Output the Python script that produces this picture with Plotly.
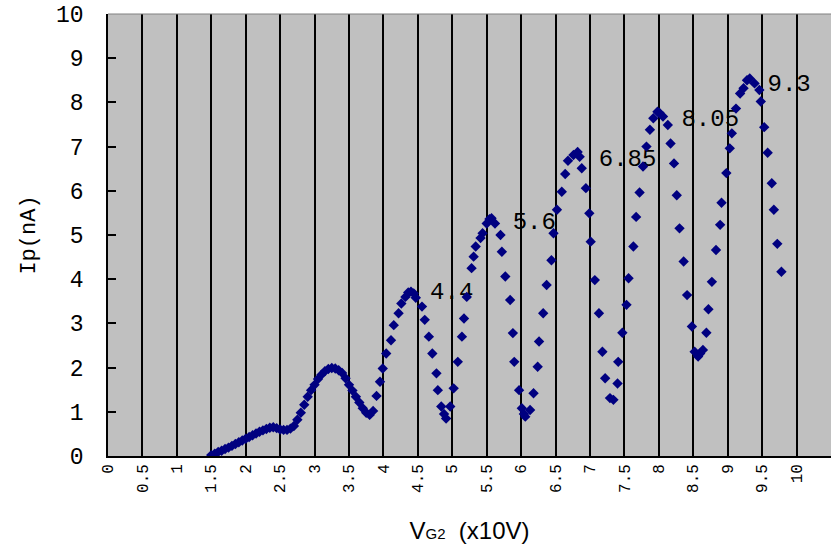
import plotly.graph_objects as go

# Dense (near continuous) part of the curve
vg2_dense = [1.50, 1.55, 1.60, 1.65, 1.70, 1.75, 1.80, 1.85, 1.90, 1.95,
             2.00, 2.05, 2.10, 2.15, 2.20, 2.25, 2.30, 2.35, 2.40, 2.45,
             2.50, 2.55, 2.60, 2.65, 2.70, 2.75, 2.80, 2.85, 2.90, 2.95,
             3.00, 3.05, 3.10, 3.15, 3.20, 3.25, 3.30, 3.35, 3.40, 3.45,
             3.50, 3.55, 3.60, 3.65, 3.70, 3.75, 3.80, 3.85]
ip_dense = [0.02, 0.05, 0.09, 0.12, 0.16, 0.19, 0.23, 0.27, 0.31, 0.35,
            0.39, 0.43, 0.47, 0.51, 0.55, 0.58, 0.61, 0.64, 0.65, 0.63,
            0.60, 0.59, 0.59, 0.62, 0.68, 0.82, 0.98, 1.16, 1.34, 1.49,
            1.61, 1.74, 1.84, 1.92, 1.97, 1.99, 1.98, 1.94, 1.88, 1.76,
            1.61, 1.48, 1.34, 1.21, 1.08, 0.98, 0.93, 1.02]

# Sparse part
vg2_sparse = [3.90, 3.95, 3.99, 4.04, 4.11, 4.15, 4.22, 4.26, 4.32, 4.36,
              4.40, 4.44, 4.47, 4.56, 4.60, 4.66, 4.71, 4.77, 4.79, 4.84,
              4.88, 4.91, 4.97, 5.02, 5.08, 5.14, 5.17, 5.21, 5.28, 5.31,
              5.34, 5.41, 5.44, 5.50, 5.54, 5.57, 5.62, 5.70, 5.72, 5.77,
              5.84, 5.88, 5.90, 5.97, 6.01, 6.04, 6.06, 6.13, 6.18, 6.24,
              6.26, 6.32, 6.37, 6.44, 6.47, 6.52, 6.59, 6.64, 6.68, 6.76,
              6.82, 6.85, 6.88, 6.94, 6.99, 7.01, 7.07, 7.13, 7.18, 7.22,
              7.29, 7.34, 7.40, 7.41, 7.47, 7.53, 7.56, 7.63, 7.67, 7.72,
              7.77, 7.82, 7.87, 7.92, 7.98, 8.01, 8.06, 8.13, 8.17, 8.22,
              8.26, 8.30, 8.36, 8.41, 8.48, 8.52, 8.57, 8.60, 8.64, 8.69,
              8.72, 8.77, 8.83, 8.89, 8.91, 8.98, 9.03, 9.06, 9.12, 9.18,
              9.23, 9.28, 9.32, 9.39, 9.46, 9.48, 9.53, 9.58, 9.64, 9.67,
              9.72, 9.78]
ip_sparse = [1.36, 1.68, 1.98, 2.32, 2.62, 2.96, 3.23, 3.45, 3.60, 3.70,
             3.72, 3.68, 3.58, 3.38, 3.08, 2.70, 2.32, 1.87, 1.49, 1.12,
             0.95, 0.85, 1.12, 1.53, 2.13, 2.70, 3.11, 3.60, 4.25, 4.51,
             4.74, 4.93, 5.04, 5.26, 5.36, 5.38, 5.26, 5.00, 4.62, 4.06,
             3.53, 2.78, 2.13, 1.49, 1.08, 0.95, 0.89, 1.04, 1.42, 2.02,
             2.59, 3.23, 3.87, 4.43, 5.04, 5.57, 5.98, 6.38, 6.68, 6.81,
             6.88, 6.77, 6.51, 6.06, 5.49, 4.85, 3.98, 3.23, 2.36, 1.76,
             1.31, 1.27, 1.64, 2.13, 2.79, 3.42, 4.02, 4.74, 5.41, 5.96,
             6.55, 7.00, 7.38, 7.64, 7.79, 7.76, 7.68, 7.49, 7.07, 6.62,
             5.90, 5.15, 4.40, 3.64, 2.93, 2.36, 2.25, 2.32, 2.40, 2.79,
             3.32, 3.94, 4.66, 5.23, 5.73, 6.40, 6.96, 7.30, 7.86, 8.20,
             8.32, 8.50, 8.54, 8.43, 8.28, 8.02, 7.44, 6.86, 6.17, 5.57,
             4.80, 4.17]

vg2 = vg2_dense + vg2_sparse
ip = ip_dense + ip_sparse

# Peak labels
label_x = [4.4, 5.6, 6.85, 8.05, 9.3]
label_y = [3.69, 5.27, 6.70, 7.60, 8.39]
label_text = ["4.4", "5.6", "6.85", "8.05", "9.3"]

x_tickvals = [i * 0.5 for i in range(22)]
x_ticktext = ["0", "0.5", "1", "1.5", "2", "2.5", "3", "3.5", "4", "4.5", "5",
              "5.5", "6", "6.5", "7", "7.5", "8", "8.5", "9", "9.5", "10", "10.5"]
y_tickvals = list(range(11))

mono = "Liberation Mono"

fig = go.Figure()

# labels (drawn beneath markers)
fig.add_trace(go.Scatter(
    x=label_x, y=label_y, mode="markers+text", text=label_text,
    textposition="middle right",
    textfont=dict(family=mono, size=24, color="#000000"),
    marker=dict(size=29, opacity=0, color="rgba(0,0,0,0)"),
    hoverinfo="skip", showlegend=False, cliponaxis=False,
))

fig.add_trace(go.Scatter(
    x=vg2, y=ip, mode="markers",
    marker=dict(symbol="diamond", size=8, color="#000080", line=dict(width=0)),
    showlegend=False,
))

fig.update_layout(
    width=832, height=552,
    margin=dict(l=108, r=1, t=14, b=96),
    paper_bgcolor="#FFFFFF",
    plot_bgcolor="#C0C0C0",
    xaxis=dict(
        range=[0, 10.5],
        automargin=False,
        tickvals=x_tickvals, ticktext=x_ticktext,
        tickangle=-90,
        tickfont=dict(family=mono, size=16, color="#000000"),
        showgrid=True, gridcolor="#000000", gridwidth=1.5,
        zeroline=False,
        showline=True, linecolor="#000000", linewidth=1.5,
        ticks="",
        title=dict(
            text="V<span style='font-size:15px'>G2</span>  (x10V)",
            font=dict(family="Liberation Sans", size=24, color="#000000"),
            standoff=30,
        ),
    ),
    yaxis=dict(
        range=[0, 10],
        automargin=False,
        tickvals=y_tickvals,
        tickfont=dict(family=mono, size=23, color="#000000"),
        showgrid=False, zeroline=False,
        showline=True, linecolor="#000000", linewidth=1.5,
        ticks="inside", ticklen=8, tickwidth=1.5, tickcolor="#000000",
        ticklabelstandoff=18,
        title=dict(
            text="Ip(nA)",
            font=dict(family=mono, size=22, color="#000000"),
            standoff=14,
        ),
    ),
    shapes=[dict(type="line", xref="paper", yref="paper", x0=0, x1=1, y0=1, y1=1,
                 line=dict(color="#808080", width=1))],
)

fig.write_html("out.html",
               config={"displayModeBar": False},
               post_script="document.body.style.margin='0';document.body.style.padding='0';")
